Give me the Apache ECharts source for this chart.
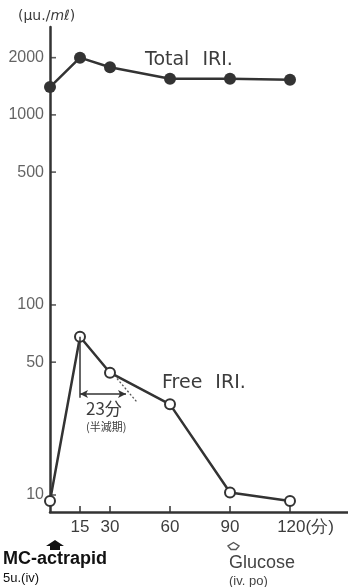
<!DOCTYPE html>
<html>
<head>
<meta charset="utf-8">
<script src="https://cdn.jsdelivr.net/npm/echarts@6/dist/echarts.min.js"></script>
<style>
  html, body { margin: 0; padding: 0; background: #fff; }
  #chart { width: 348px; height: 587px; }
</style>
</head>
<body>
<div id="chart"></div>
<script>
// Sampling times (minutes after injection)
const minutes = [0, 15, 30, 60, 90, 120];
// Immunoreactive insulin, µU/ml
const totalIRI = [1400, 2000, 1780, 1550, 1550, 1530];
const freeIRI = [9.3, 68, 44, 30, 10.3, 9.3];
// Axis ticks
const yTickValues = [10, 50, 100, 500, 1000, 2000];
const xTickValues = [15, 30, 60, 90, 120];
// Half-life of free IRI (minutes) and the extrapolated decay segment
const halfLifeMin = 23;
const decayStart = [33.5, 41];
const decayEnd = [43.5, 30.8];

const INK = '#333';
const TEXT = '#3c3c3c';
const NUM_FONT = '"Liberation Sans", Arial, sans-serif';
const LABEL_FONT = '"DejaVu Sans", sans-serif';

const chart = echarts.init(document.getElementById('chart'), null, { renderer: 'canvas' });

const peakT = minutes[1];
const peakV = freeIRI[1];
const halfV = peakV / 2;

const option = {
  backgroundColor: '#fff',
  animation: false,
  grid: { left: 50, right: 0, top: 27, bottom: 75, containLabel: false },
  xAxis: {
    type: 'value',
    min: 0,
    max: 149,
    splitLine: { show: false },
    axisLine: { show: true, onZero: false, lineStyle: { color: INK, width: 2.5 } },
    axisTick: {
      show: true, inside: true, length: 6, customValues: xTickValues,
      lineStyle: { color: INK, width: 1.5 }
    },
    axisLabel: {
      show: true, customValues: xTickValues, margin: 7,
      color: TEXT, fontSize: 17, fontFamily: NUM_FONT,
      formatter: v => v === 120 ? '{u|120(分)}' : String(v),
      rich: {
        u: { fontSize: 17, fontFamily: NUM_FONT, color: TEXT, padding: [0, 0, 0, 31] }
      }
    }
  },
  yAxis: {
    type: 'log',
    logBase: 10,
    min: 8.14,
    max: 2900,
    splitLine: { show: false },
    axisLine: { show: true, onZero: false, lineStyle: { color: INK, width: 2.5 } },
    axisTick: { show: false },
    axisLabel: { show: false },
    minorTick: { show: false }
  },
  series: [
    {
      // y-axis tick marks with their labels, placed on the log scale
      name: 'yTicks',
      type: 'scatter',
      silent: true,
      data: yTickValues.map(v => [0, v]),
      symbol: 'rect',
      symbolSize: [6, 1.6],
      symbolOffset: [3, 0],
      itemStyle: { color: INK },
      label: {
        show: true, position: 'left', distance: 6,
        color: TEXT, fontSize: 16, fontFamily: NUM_FONT,
        formatter: p => String(p.value[1])
      },
      z: 1
    },
    {
      name: 'Total IRI.',
      type: 'line',
      data: minutes.map((t, i) => [t, totalIRI[i]]),
      symbol: 'circle',
      symbolSize: 12,
      itemStyle: { color: INK },
      lineStyle: { color: INK, width: 2.5 },
      z: 3
    },
    {
      name: 'Free IRI.',
      type: 'line',
      data: minutes.map((t, i) => [t, freeIRI[i]]),
      symbol: 'circle',
      symbolSize: 10,
      itemStyle: { color: '#fff', borderColor: INK, borderWidth: 2 },
      lineStyle: { color: INK, width: 2.5 },
      z: 3,
      markLine: {
        silent: true,
        animation: false,
        label: { show: false },
        symbol: ['none', 'none'],
        lineStyle: { color: INK, width: 1.5, type: 'solid' },
        data: [
          // drop from the peak
          [
            { coord: [peakT, peakV], symbol: 'none' },
            { coord: [peakT, halfV * 0.955], symbol: 'none' }
          ],
          // half-life span
          [
            { coord: [peakT, halfV], symbol: 'arrow', symbolSize: [6, 8] },
            { coord: [peakT + halfLifeMin, halfV], symbol: 'arrow', symbolSize: [6, 8] }
          ],
          // extrapolated decay
          [
            { coord: decayStart, symbol: 'none', lineStyle: { type: [2, 2], width: 1.3, color: '#555' } },
            { coord: decayEnd, symbol: 'none' }
          ]
        ]
      }
    }
  ],
  graphic: [
    {
      type: 'text', left: 18, top: 9,
      style: {
        text: '(μu./{i|mℓ})',
        fill: TEXT, fontSize: 14, fontFamily: LABEL_FONT,
        rich: { i: { fontStyle: 'italic', fontSize: 14, fill: TEXT, fontFamily: LABEL_FONT } }
      }
    },
    {
      type: 'text', left: 145, top: 51,
      style: {
        text: 'Total {g|IRI.}', fill: TEXT, fontSize: 19, fontFamily: LABEL_FONT,
        rich: { g: { fontSize: 19, fontFamily: LABEL_FONT, fill: TEXT, padding: [0, 0, 0, 7] } }
      }
    },
    {
      type: 'text', left: 162, top: 374,
      style: {
        text: 'Free {g|IRI.}', fill: TEXT, fontSize: 19, fontFamily: LABEL_FONT,
        rich: { g: { fontSize: 19, fontFamily: LABEL_FONT, fill: TEXT, padding: [0, 0, 0, 7] } }
      }
    },
    {
      type: 'text', left: 86, top: 400,
      style: { text: '23分', fill: TEXT, fontSize: 17, fontFamily: '"Noto Sans CJK JP", "DejaVu Sans", sans-serif' }
    },
    {
      type: 'text', left: 86, top: 421,
      style: { text: '(半減期)', fill: TEXT, fontSize: 11, fontFamily: '"Noto Sans CJK JP", sans-serif' }
    },
    // injection marker
    {
      type: 'polygon',
      shape: { points: [[55, 540], [64, 546], [60, 546], [60, 550], [50, 550], [50, 546], [46, 546]] },
      style: { fill: '#111' }
    },
    {
      type: 'text', left: 3, top: 550,
      style: { text: 'MC-actrapid', fill: '#111', fontSize: 18, fontWeight: 'bold', fontFamily: 'Liberation Sans, Arial, sans-serif' }
    },
    {
      type: 'text', left: 3, top: 572,
      style: { text: '5u.(iv)', fill: '#111', fontSize: 13, fontFamily: 'Liberation Sans, Arial, sans-serif' }
    },
    // glucose marker
    {
      type: 'polygon',
      shape: { points: [[233.5, 542.5], [239, 546], [236, 549.5], [231, 549.5], [228, 546]] },
      style: { fill: '#fff', stroke: '#555', lineWidth: 1.4 }
    },
    {
      type: 'text', left: 229, top: 554,
      style: { text: 'Glucose', fill: '#444', fontSize: 18, fontFamily: 'Liberation Sans, Arial, sans-serif' }
    },
    {
      type: 'text', left: 229, top: 575,
      style: { text: '(iv. po)', fill: '#444', fontSize: 13, fontFamily: 'Liberation Sans, Arial, sans-serif' }
    }
  ]
};

chart.setOption(option);
</script>
</body>
</html>
